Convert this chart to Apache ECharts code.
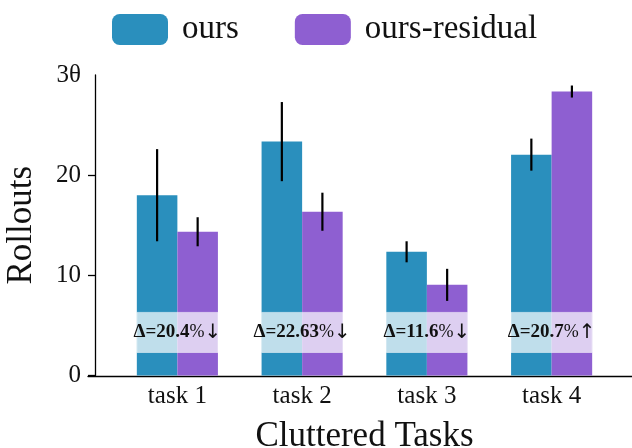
<!DOCTYPE html>
<html><head><meta charset="utf-8">
<script src="https://cdn.jsdelivr.net/npm/echarts@6/dist/echarts.min.js"></script>
<style>html,body{margin:0;padding:0;background:#fff}#c{width:632px;height:448px}</style>
</head><body><div id="c"></div>
<script>
const categories = ['task 1', 'task 2', 'task 3', 'task 4'];
const seriesNames = ['ours', 'ours-residual'];
const oursValues = [18.0, 23.35, 12.35, 22.05];
const oursErrors = [4.6, 3.95, 1.05, 1.6];
const residualValues = [14.35, 16.35, 9.05, 28.35];
const residualErrors = [1.45, 1.9, 1.6, 0.6];
const yTickValues = [0, 10, 20, 30];
const yTickLabels = ['0', '10', '20', '3θ'];
const deltaValues = ['20.4', '22.63', '11.6', '20.7'];
const deltaArrows = ['↓', '↓', '↓', '↑'];
const boxLow = 2.3, boxHigh = 6.3;

const FONT = 'Liberation Serif';
const BLUE = '#2a8fbd', PURPLE = '#8e5fd1';
const BAR_FRAC = 0.325;

const errData = [];
categories.forEach((c, i) => {
  errData.push([i, oursValues[i], oursErrors[i], -1]);
  errData.push([i, residualValues[i], residualErrors[i], 1]);
});
const boxData = categories.map((c, i) => [i, boxLow, boxHigh]);

const chart = echarts.init(document.getElementById('c'), null, {renderer: 'canvas'});
chart.setOption({
  animation: false,
  backgroundColor: '#fff',
  legend: {
    top: 8, left: 107,
    itemWidth: 56, itemHeight: 31, itemGap: 56,
    icon: 'roundRect',
    data: seriesNames,
    textStyle: {fontFamily: FONT, fontSize: 33, color: '#111', padding: [2, 0, 0, 9]}
  },
  grid: [
    {left: 115, right: 18, top: 75, bottom: 72.5, outerBoundsMode: 'none', containLabel: false},
    {left: 88, right: 0, top: 75, bottom: 72, outerBoundsMode: 'none', containLabel: false}
  ],
  xAxis: [
    {
      type: 'category', data: categories, gridIndex: 0,
      axisLine: {show: false}, axisTick: {show: false},
      axisLabel: {fontFamily: FONT, fontSize: 25, color: '#111', margin: 8},
      name: 'Cluttered Tasks', nameLocation: 'middle', nameGap: 44,
      nameTextStyle: {fontFamily: FONT, fontSize: 35, color: '#111'}
    },
    {
      type: 'value', gridIndex: 1, min: 0, max: 1,
      axisLine: {show: true, onZero: false, lineStyle: {color: '#000', width: 1.3}},
      axisTick: {show: false}, axisLabel: {show: false}, splitLine: {show: false}
    }
  ],
  yAxis: [
    {
      type: 'value', gridIndex: 0, min: 0, max: 30, interval: 10, offset: 20,
      axisLine: {show: true, lineStyle: {color: '#000', width: 1.3}},
      axisTick: {show: true, length: 7, lineStyle: {color: '#000', width: 1.3}, customValues: [0, 10, 20]},
      axisLabel: {
        fontFamily: FONT, fontSize: 25, color: '#111', margin: 14,
        customValues: yTickValues,
        formatter: v => { const k = yTickValues.indexOf(v); return k >= 0 ? yTickLabels[k] : ''; }
      },
      splitLine: {show: false},
      name: 'Rollouts', nameLocation: 'middle', nameGap: 56,
      nameTextStyle: {fontFamily: FONT, fontSize: 35, color: '#111'}
    },
    {type: 'value', gridIndex: 1, min: 0, max: 1, show: false}
  ],
  series: [
    {
      name: seriesNames[0], type: 'bar', data: oursValues,
      barWidth: (BAR_FRAC * 100) + '%', barGap: '0%',
      itemStyle: {color: BLUE}, z: 2
    },
    {
      name: seriesNames[1], type: 'bar', data: residualValues,
      barWidth: (BAR_FRAC * 100) + '%', barGap: '0%',
      itemStyle: {color: PURPLE}, z: 2
    },
    {
      type: 'custom', data: boxData, z: 3, silent: true,
      renderItem: (params, api) => {
        const i = api.value(0);
        const band = api.size([1, 0])[0];
        const gw = band * BAR_FRAC * 2;
        const cx = api.coord([i, 0])[0];
        const y1 = api.coord([i, api.value(2)])[1];
        const y2 = api.coord([i, api.value(1)])[1];
        const k = params.dataIndex;
        return {
          type: 'group',
          children: [
            {type: 'rect', shape: {x: cx - gw / 2, y: y1, width: gw, height: y2 - y1},
             style: {fill: 'rgba(255,255,255,0.7)', stroke: 'rgba(255,255,255,0.5)', lineWidth: 1}},
            {type: 'text', x: cx, y: (y1 + y2) / 2,
             style: {
               text: '{b|Δ=' + deltaValues[k] + '}{n|%}{a|' + deltaArrows[k] + '}',
               align: 'center', verticalAlign: 'middle',
               rich: {
                 b: {fontFamily: FONT, fontWeight: 'bold', fontSize: 19, fill: '#111'},
                 n: {fontFamily: FONT, fontSize: 18, fill: '#111'},
                 a: {fontFamily: 'DejaVu Sans', fontSize: 20, fill: '#111'}
               }
             }}
          ]
        };
      }
    },
    {
      type: 'custom', data: errData, z: 4, silent: true,
      renderItem: (params, api) => {
        const i = api.value(0), v = api.value(1), e = api.value(2), side = api.value(3);
        const band = api.size([1, 0])[0];
        const bw = band * BAR_FRAC;
        const x = api.coord([i, v])[0] + side * bw / 2;
        const yt = api.coord([i, v + e])[1];
        const yb = api.coord([i, v - e])[1];
        return {type: 'line', shape: {x1: x, y1: yt, x2: x, y2: yb},
                style: {stroke: '#000', lineWidth: 2.2}};
      }
    }
  ]
});
</script></body></html>
